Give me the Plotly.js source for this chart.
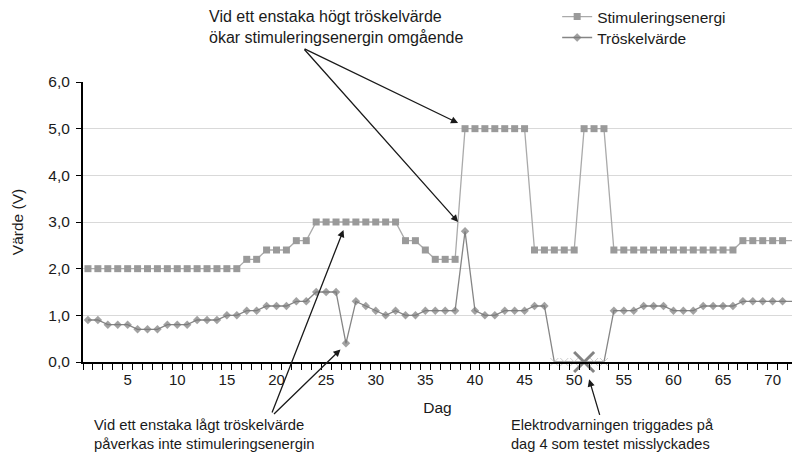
<!DOCTYPE html>
<html>
<head>
<meta charset="utf-8">
<script src="https://cdn.plot.ly/plotly-3.0.1.min.js"></script>
<style>
html, body { margin:0; padding:0; overflow:hidden; background:#fff; }
#chart { width:792px; height:457px; }
</style>
</head>
<body>
<div id="chart"></div>
<script>
// ---- data ----
var days = [1,2,3,4,5,6,7,8,9,10,11,12,13,14,15,16,17,18,19,20,21,22,23,24,25,26,27,28,29,30,31,32,33,34,35,36,
            37,38,39,40,41,42,43,44,45,46,47,48,49,50,51,52,53,54,55,56,57,58,59,60,61,62,63,64,65,66,67,68,69,70,71,72];
var stimuleringsenergi = [2.0,2.0,2.0,2.0,2.0,2.0,2.0,2.0,2.0,2.0,2.0,2.0,2.0,2.0,2.0,2.0,2.2,2.2,2.4,2.4,2.4,2.6,2.6,
            3.0,3.0,3.0,3.0,3.0,3.0,3.0,3.0,3.0,2.6,2.6,2.4,2.2,2.2,2.2,5.0,5.0,5.0,5.0,5.0,5.0,5.0,
            2.4,2.4,2.4,2.4,2.4,5.0,5.0,5.0,2.4,2.4,2.4,2.4,2.4,2.4,2.4,2.4,2.4,2.4,2.4,2.4,2.4,2.6,2.6,2.6,2.6,2.6,2.6];
var troskelvarde = [0.9,0.9,0.8,0.8,0.8,0.7,0.7,0.7,0.8,0.8,0.8,0.9,0.9,0.9,1.0,1.0,1.1,1.1,1.2,1.2,1.2,1.3,1.3,
            1.5,1.5,1.5,0.4,1.3,1.2,1.1,1.0,1.1,1.0,1.0,1.1,1.1,1.1,1.1,2.8,1.1,1.0,1.0,1.1,1.1,1.1,1.2,1.2,
            0,0,0,0,0,0,1.1,1.1,1.1,1.2,1.2,1.2,1.1,1.1,1.1,1.2,1.2,1.2,1.2,1.3,1.3,1.3,1.3,1.3,1.3];
var warningDay = [51];
var warningValue = [0];
var seriesNames = ['Stimuleringsenergi', 'Tröskelvärde'];
var xTitle = 'Dag';
var yTitle = 'Värde (V)';

// ---- styles derived from values ----
var failed = troskelvarde.map(function(v){ return v === 0; });
var thrSymbols = failed.map(function(f){ return f ? 'x-thin' : 'diamond'; });
var thrSizes = failed.map(function(f){ return f ? 8 : 6.5; });
var thrLineW = failed.map(function(f){ return f ? 1 : 0; });
var thrLineC = failed.map(function(f){ return f ? '#b8b8b8' : '#7a7a7a'; });

var FONT = 'Arial, "Liberation Sans", sans-serif';
var TXT = '#1a1a1a';
var FS = 15.5;

var traces = [
  {
    x: days, y: stimuleringsenergi, name: seriesNames[0], type: 'scatter', mode: 'lines+markers',
    line: {color: '#aaaaaa', width: 1.3},
    marker: {symbol: 'square', size: 7, color: '#9a9a9a'},
    cliponaxis: false, legend: 'legend'
  },
  {
    x: days, y: troskelvarde, name: seriesNames[1], type: 'scatter', mode: 'lines+markers',
    line: {color: '#858585', width: 1.3},
    marker: {symbol: thrSymbols, size: thrSizes, color: '#7a7a7a',
             line: {width: thrLineW, color: thrLineC}},
    cliponaxis: false, legend: 'legend2'
  },
  {
    x: warningDay, y: warningValue, type: 'scatter', mode: 'markers', showlegend: false,
    marker: {symbol: 'x-thin', size: 20, color: '#838383', line: {width: 3, color: '#838383'}},
    cliponaxis: false, hoverinfo: 'skip'
  }
];

var arrowStyle = {showarrow: true, arrowhead: 2, arrowsize: 1.1, arrowwidth: 1.3,
                  arrowcolor: '#1a1a1a', standoff: 0, text: ''};
function arrow(o){ var r = {}; for (var k in arrowStyle) r[k] = arrowStyle[k]; for (var k2 in o) r[k2] = o[k2]; return r; }
function px2px(x){ return (x-82.5)/709.5; }
function py2py(y){ return (361.7-y)/279.7; }

var annotations = [
  arrow({xref:'x', yref:'y', x: 38.3, y: 5.12, ax: -155, ay: -75}),
  arrow({xref:'x', yref:'y', x: 38.3, y: 3.0, ax: -155, ay: -174}),
  arrow({xref:'x', yref:'y', x: 26.75, y: 2.83, ax: -72, ay: 184}),
  arrow({xref:'x', yref:'y', x: 26.45, y: 0.27, ax: -68, ay: 66}),
  arrow({xref:'paper', yref:'paper', x: px2px(589), y: py2py(379), ax: 11, ay: 37}),
  {xref:'paper', yref:'paper', x: px2px(207), y: py2py(27), xanchor:'left', yanchor:'middle',
   align:'left', showarrow:false, font:{family:FONT, size:16, color:TXT},
   text:'Vid ett enstaka högt tröskelvärde<br>ökar stimuleringsenergin omgående'},
  {xref:'paper', yref:'paper', x: px2px(92), y: py2py(434), xanchor:'left', yanchor:'middle',
   align:'left', showarrow:false, font:{family:FONT, size:14.8, color:TXT},
   text:'Vid ett enstaka lågt tröskelvärde<br>påverkas inte stimuleringsenergin'},
  {xref:'paper', yref:'paper', x: px2px(509), y: py2py(434), xanchor:'left', yanchor:'middle',
   align:'left', showarrow:false, font:{family:FONT, size:14.6, color:TXT},
   text:'Elektrodvarningen triggades på<br>dag 4 som testet misslyckades'}
];

function legendAt(yTop){
  return {x: px2px(557), y: py2py(yTop), xanchor: 'left', yanchor: 'top',
          orientation: 'v', bgcolor: 'rgba(0,0,0,0)', font: {family: FONT, size: FS, color: TXT},
          itemwidth: 30};
}

var layout = {
  width: 792, height: 457,
  margin: {l: 82.5, r: 0, t: 82, b: 95.3, pad: 0},
  paper_bgcolor: '#ffffff', plot_bgcolor: '#ffffff',
  font: {family: FONT, size: FS, color: TXT},
  separators: ',.',
  showlegend: true,
  legend: legendAt(0),
  legend2: legendAt(21),
  xaxis: {
    range: [0.5, 71.95], tickmode: 'linear', tick0: 0, dtick: 5, ticks: '',
    showgrid: false, zeroline: false, showline: true, linecolor: '#000', linewidth: 2,
    tickfont: {family: FONT, size: 15, color: TXT}, ticklabelstandoff: 3,
    minor: {tickmode: 'linear', tick0: 0.5, dtick: 1, ticks: 'outside', ticklen: 6, tickwidth: 1,
            tickcolor: '#000', showgrid: false},
    title: {text: xTitle, font: {family: FONT, size: FS, color: TXT}, standoff: 15},
    fixedrange: true
  },
  yaxis: {
    range: [0, 6], tickmode: 'linear', tick0: 0, dtick: 1, tickformat: '.1f',
    ticks: 'outside', ticklen: 5, tickwidth: 1, tickcolor: '#000',
    showgrid: true, gridcolor: '#d9d9d9', gridwidth: 1,
    zeroline: false, showline: true, linecolor: '#000', linewidth: 2,
    tickfont: {family: FONT, size: 15.5, color: TXT}, ticklabelstandoff: 3,
    title: {text: yTitle, font: {family: FONT, size: FS, color: TXT}, standoff: 21},
    fixedrange: true
  },
  annotations: annotations
};

Plotly.newPlot('chart', traces, layout, {displayModeBar: false, staticPlot: true});
</script>
</body>
</html>
